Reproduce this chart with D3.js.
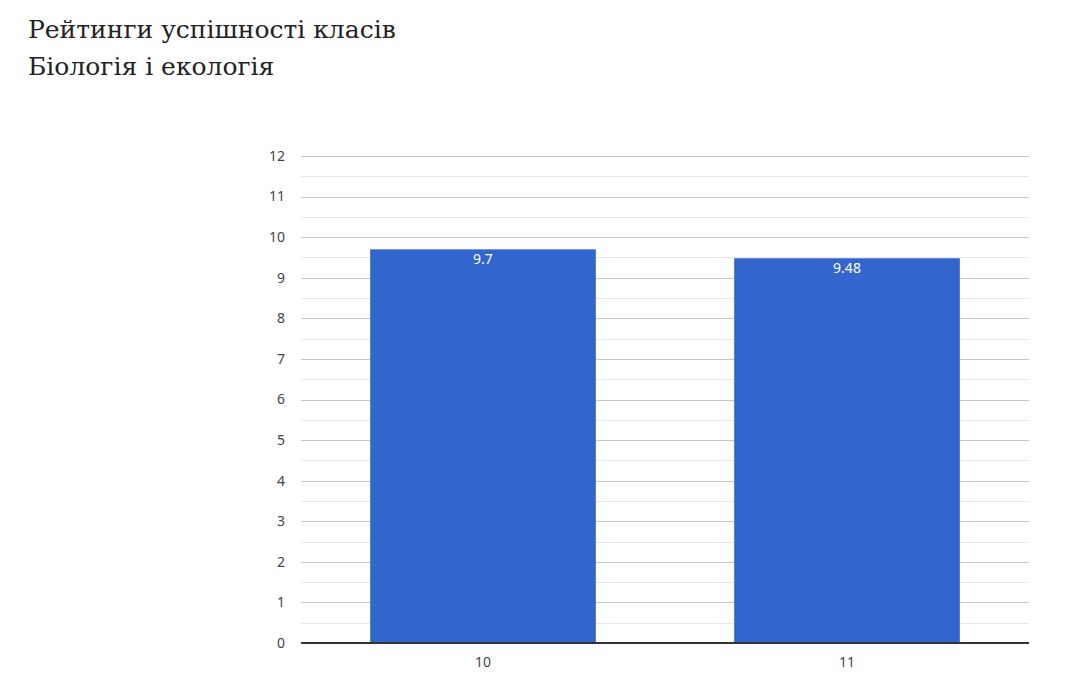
<!DOCTYPE html>
<html>
<head>
<meta charset="utf-8">
<script src="https://cdn.jsdelivr.net/npm/d3@7"></script>
<style>
  body { margin: 0; background: #fff; }
  svg { display: block; }
  .title { font-family: "DejaVu Serif", serif; font-size: 25px; fill: #222; }
  .tick-label { font-family: "Noto Sans", sans-serif; font-size: 14px; fill: #444; }
  .value-label { font-family: "Noto Sans", sans-serif; font-size: 14px; fill: #fff; }
</style>
</head>
<body>
<svg id="chart" width="1077" height="686"></svg>
<script>
// data
const titleLines = ["Рейтинги успішності класів", "Біологія і екологія"];
const categories = ["10", "11"];
const values = [9.7, 9.48];
const yTicks = [0, 1, 2, 3, 4, 5, 6, 7, 8, 9, 10, 11, 12];

const LEFT = 301, RIGHT = 1029, TOP = 156, BOTTOM = 643;

const svg = d3.select("#chart");

// ── Title ──
svg.selectAll("text.title")
  .data(titleLines)
  .join("text")
  .attr("class", "title")
  .attr("x", 28)
  .attr("y", (d, i) => 38 + i * 37)
  .text(d => d);

// ── Scales ──
const x = d3.scaleBand()
  .domain(categories)
  .range([LEFT, RIGHT])
  .paddingInner(0.38)
  .paddingOuter(0.19);

const y = d3.scaleLinear()
  .domain([0, 12])
  .range([BOTTOM, TOP]);

// ── Minor gridlines (half steps) ──
const minor = d3.range(0.5, 12, 1);
svg.append("g")
  .selectAll("line")
  .data(minor)
  .join("line")
  .attr("x1", LEFT).attr("x2", RIGHT)
  .attr("y1", d => Math.round(y(d)) + 0.5)
  .attr("y2", d => Math.round(y(d)) + 0.5)
  .attr("stroke", "#e8e8e8")
  .attr("stroke-width", 1.2);

// ── Major gridlines ──
svg.append("g")
  .selectAll("line")
  .data(yTicks.filter(d => d > 0))
  .join("line")
  .attr("x1", LEFT).attr("x2", RIGHT)
  .attr("y1", d => Math.round(y(d)) + 0.5)
  .attr("y2", d => Math.round(y(d)) + 0.5)
  .attr("stroke", "#c6c6c6")
  .attr("stroke-width", 1.2);

// ── Y tick labels ──
svg.append("g")
  .selectAll("text")
  .data(yTicks)
  .join("text")
  .attr("class", "tick-label")
  .attr("x", 285)
  .attr("y", d => y(d))
  .attr("dy", "0.35em")
  .attr("text-anchor", "end")
  .text(d => d);

// ── Bars ──
svg.append("g")
  .selectAll("rect")
  .data(values)
  .join("rect")
  .attr("x", (d, i) => x(categories[i]))
  .attr("y", d => y(d))
  .attr("width", x.bandwidth())
  .attr("height", d => y(0) - y(d))
  .attr("fill", "#3366cc");

// ── Value labels ──
svg.append("g")
  .selectAll("text")
  .data(values)
  .join("text")
  .attr("class", "value-label")
  .attr("x", (d, i) => x(categories[i]) + x.bandwidth() / 2)
  .attr("y", d => y(d) + 15)
  .attr("text-anchor", "middle")
  .text(d => d);

// ── Baseline ──
svg.append("line")
  .attr("x1", LEFT).attr("x2", RIGHT)
  .attr("y1", BOTTOM).attr("y2", BOTTOM)
  .attr("stroke", "#333333")
  .attr("stroke-width", 2);

// ── Category labels ──
svg.append("g")
  .selectAll("text")
  .data(categories)
  .join("text")
  .attr("class", "tick-label")
  .attr("x", d => x(d) + x.bandwidth() / 2)
  .attr("y", 667)
  .attr("text-anchor", "middle")
  .text(d => d);
</script>
</body>
</html>
